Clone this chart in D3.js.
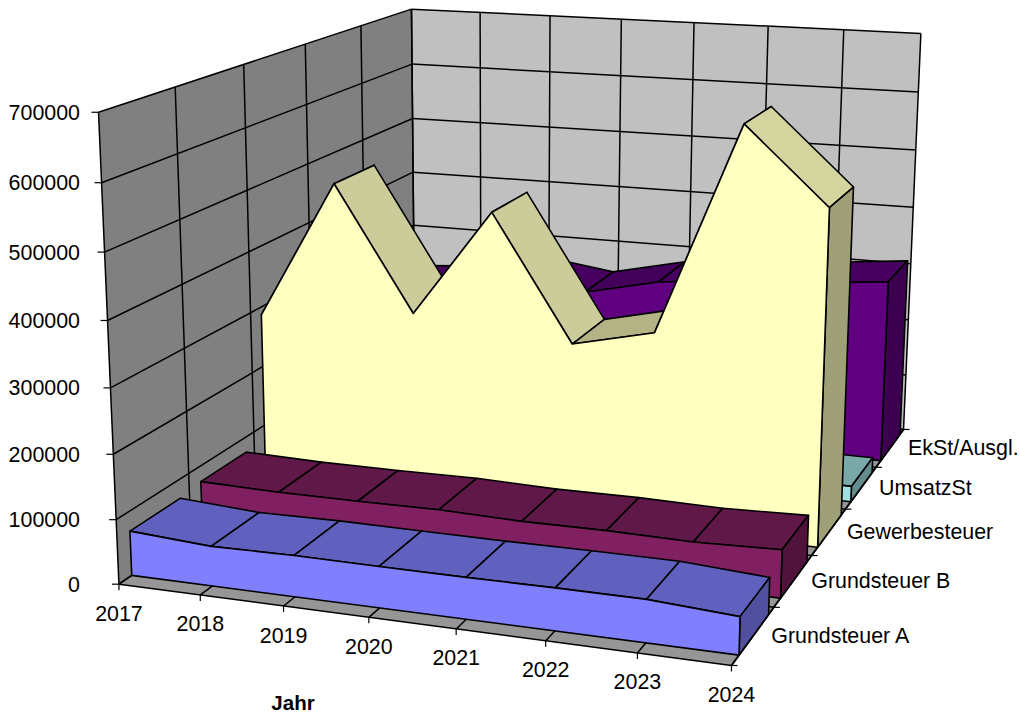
<!DOCTYPE html>
<html lang="de">

<head>
    <meta charset="UTF-8">
    <title>Steuereinnahmen</title>
    <script src="https://d3js.org/d3.v7.min.js"></script>
    <style>
        body { margin: 0; background: #fff; }
        text { font-family: "Liberation Sans", Arial, sans-serif; font-size: 21.4px; fill: #000; }
    </style>
</head>

<body>
    <div id="my_dataviz"></div>

    <script>
        // the data
        const years = ["2017", "2018", "2019", "2020", "2021", "2022", "2023", "2024"];
        const seriesNames = ["Grundsteuer A", "Grundsteuer B", "Gewerbesteuer", "UmsatzSt", "EkSt/Ausgl."];
        const valueTicks = [0, 100000, 200000, 300000, 400000, 500000, 600000, 700000];

        const grundsteuerA = [69400, 61500, 63500, 63000, 63000, 64000, 64000, 56000];
        const grundsteuerB = [74700, 72000, 72500, 74000, 71000, 72000, 70000, 74000];
        const gewerbesteuer = [287000, 512000, 312000, 485000, 286000, 316000, 647000, 530000];
        const umsatzSt = [26000, 26000, 26000, 26000, 26000, 26000, 26000, 26000];
        const ekSt = [230000, 240000, 268000, 250000, 279000, 293000, 299000, 312000];

        const allSeries = [grundsteuerA, grundsteuerB, gewerbesteuer, umsatzSt, ekSt];
        const seriesColors = ["#8080FF", "#802060", "#FFFFC0", "#A0E0E0", "#600080"];

        const width = 1021, height = 715;

        const svg = d3.select("#my_dataviz")
          .append("svg")
            .attr("width", width)
            .attr("height", height)
            .style("display", "block");

        // scales into the unit cube of the 3d plot
        const x = d3.scalePoint().domain(years).range([0, 1]);
        const y = d3.scaleLinear().domain([0, 700000]).range([0, 1]);
        const z = d3.scaleLinear().domain([0, seriesNames.length]).range([0, 1]);

        // where the corners of the cube sit on the screen: [x, y, z, screenX, screenY]
        const cubeCorners = [
            [0, 0, 0, 118, 583],
            [1, 0, 0, 732, 666],
            [1, 0, 1, 903, 429],
            [0, 0, 1, 416, 382],
            [0, 1, 0, 99, 113],
            [0, 1, 1, 411, 8.5],
            [1, 1, 1, 921, 33.5]
        ];

        // least squares camera matrix from the corners
        function solveCamera(pts) {
            const rows = [], rhs = [];
            pts.forEach(function(p) {
                const sx = p[3] / 1000, sy = p[4] / 1000;
                rows.push([p[0], p[1], p[2], 1, 0, 0, 0, 0, -sx * p[0], -sx * p[1], -sx * p[2]]); rhs.push(sx);
                rows.push([0, 0, 0, 0, p[0], p[1], p[2], 1, -sy * p[0], -sy * p[1], -sy * p[2]]); rhs.push(sy);
            });
            const n = 11;
            const m = d3.range(n).map(function(i) {
                const row = d3.range(n).map(function(j) { return d3.sum(rows, function(r) { return r[i] * r[j]; }); });
                row.push(d3.sum(rows, function(r, k) { return r[i] * rhs[k]; }));
                return row;
            });
            for (let i = 0; i < n; i++) {
                let best = i;
                for (let k = i + 1; k < n; k++) if (Math.abs(m[k][i]) > Math.abs(m[best][i])) best = k;
                const t = m[i]; m[i] = m[best]; m[best] = t;
                for (let k = 0; k < n; k++) {
                    if (k === i) continue;
                    const f = m[k][i] / m[i][i];
                    for (let j = i; j <= n; j++) m[k][j] -= f * m[i][j];
                }
            }
            return m.map(function(r, i) { return r[n] / r[i]; });
        }
        const cam = solveCamera(cubeCorners);

        function project(u, v, w) {
            const d = cam[8] * u + cam[9] * v + cam[10] * w + 1;
            return [
                1000 * (cam[0] * u + cam[1] * v + cam[2] * w + cam[3]) / d,
                1000 * (cam[4] * u + cam[5] * v + cam[6] * w + cam[7]) / d
            ];
        }
        const pt = function(year, value, band) { return project(x(year), y(value), z(band)); };

        const line = d3.line();
        function poly(g, pts, fill, stroke, sw) {
            return g.append("path")
                .attr("d", line(pts) + "Z")
                .attr("fill", fill)
                .attr("stroke", stroke || "none")
                .attr("stroke-width", sw || 0)
                .attr("stroke-linejoin", "round");
        }
        function seg(g, a, b, stroke, sw) {
            g.append("path").attr("d", line([a, b])).attr("stroke", stroke).attr("stroke-width", sw).attr("fill", "none");
        }

        const first = years[0], last = years[years.length - 1];
        const maxV = y.domain()[1], bands = seriesNames.length;

        // walls and floor
        const walls = svg.append("g");
        poly(walls, [pt(first, 0, 0), pt(first, maxV, 0), pt(first, maxV, bands), pt(first, 0, bands)], "#808080");
        poly(walls, [pt(first, 0, bands), pt(first, maxV, bands), pt(last, maxV, bands), pt(last, 0, bands)], "#C0C0C0");
        poly(walls, [pt(first, 0, 0), pt(last, 0, 0), pt(last, 0, bands), pt(first, 0, bands)], "#969696");

        // gridlines
        const grid = svg.append("g");
        valueTicks.forEach(function(v) {
            seg(grid, pt(first, v, 0), pt(first, v, bands), "#000", 1.5);
            seg(grid, pt(first, v, bands), pt(last, v, bands), "#000", 1.5);
        });
        d3.range(bands + 1).forEach(function(b) {
            seg(grid, pt(first, 0, b), pt(first, maxV, b), "#000", 1.5);
            seg(grid, pt(first, 0, b), pt(last, 0, b), "#000", 1.5);
        });
        years.forEach(function(yr) {
            seg(grid, pt(yr, 0, 0), pt(yr, 0, bands), "#000", 1.5);
            seg(grid, pt(yr, 0, bands), pt(yr, maxV, bands), "#000", 1.5);
        });
        seg(grid, pt(last, 0, 0), pt(last, 0, bands), "#000", 1.8);

        // ticks
        const ticks = svg.append("g");
        valueTicks.forEach(function(v) {
            const p = pt(first, v, 0);
            seg(ticks, p, [p[0] - 7, p[1]], "#000", 1.2);
        });
        years.forEach(function(yr) {
            const p = pt(yr, 0, 0);
            seg(ticks, p, [p[0], p[1] + 6], "#000", 1.2);
        });
        d3.range(bands + 1).forEach(function(b) {
            const p = pt(last, 0, b);
            seg(ticks, p, [p[0] + 6, p[1]], "#000", 1.2);
        });

        // how bright the top of a slope is, compared to the front
        function topShade(i, vals) {
            const diff = vals[i + 1] - vals[i];
            if (diff >= 20000) return 0.70;
            if (diff < -150000) return 0.80;
            if (diff < -20000) return 0.83;
            return 0.75;
        }
        function shade(color, k) {
            const c = d3.rgb(color);
            return d3.rgb(c.r * k, c.g * k, c.b * k).formatHex();
        }

        // back to front so that the near series cover the far ones
        const frontGap = 0.17, backGap = 0.13;
        d3.range(bands - 1, -1, -1).forEach(function(s) {
            const vals = allSeries[s], color = seriesColors[s];
            const zf = s + frontGap, zb = s + 1 - backGap;
            const g = svg.append("g");

            d3.range(years.length - 1).forEach(function(i) {
                poly(g, [
                    pt(years[i], vals[i], zf), pt(years[i + 1], vals[i + 1], zf),
                    pt(years[i + 1], vals[i + 1], zb), pt(years[i], vals[i], zb)
                ], shade(color, topShade(i, vals)), "#000", 1.6);
            });

            const n = years.length - 1;
            poly(g, [
                pt(last, 0, zf), pt(last, vals[n], zf), pt(last, vals[n], zb), pt(last, 0, zb)
            ], shade(color, 0.625), "#000", 1.6);

            const front = years.map(function(yr, i) { return pt(yr, vals[i], zf); })
                .concat([pt(last, 0, zf), pt(first, 0, zf)]);
            poly(g, front, color, "#000", 1.6);
        });

        // labels
        const labels = svg.append("g");
        labels.selectAll(".val").data(valueTicks).enter().append("text")
            .attr("x", 80)
            .attr("y", function(d) { return pt(first, d, 0)[1]; })
            .attr("dy", "0.35em")
            .attr("text-anchor", "end")
            .text(function(d) { return d; });
        labels.selectAll(".yr").data(years).enter().append("text")
            .attr("x", function(d) { return pt(d, 0, 0)[0]; })
            .attr("y", function(d) { return pt(d, 0, 0)[1] + 29; })
            .attr("dy", "0.35em")
            .attr("text-anchor", "middle")
            .text(function(d) { return d; });
        labels.selectAll(".ser").data(seriesNames).enter().append("text")
            .attr("x", function(d, i) { return pt(last, 0, i + 0.5)[0] + 18; })
            .attr("y", function(d, i) { return pt(last, 0, i + 0.5)[1]; })
            .attr("dy", "0.35em")
            .text(function(d) { return d; });
        labels.append("text")
            .attr("x", 293).attr("y", 703)
            .attr("dy", "0.35em")
            .attr("text-anchor", "middle")
            .attr("font-weight", "bold")
            .style("font-size", "20.5px")
            .text("Jahr");
    </script>
</body>

</html>
